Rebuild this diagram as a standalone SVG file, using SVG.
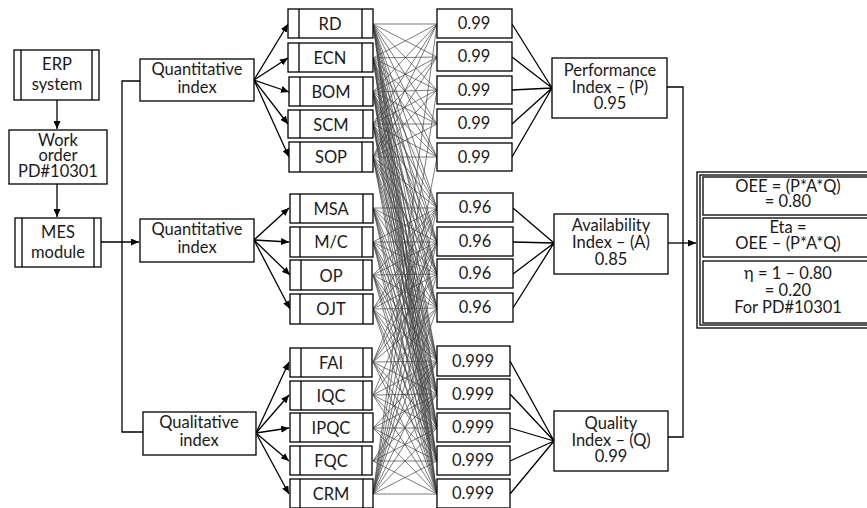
<svg xmlns="http://www.w3.org/2000/svg" width="867" height="508" viewBox="0 0 867 508">
<defs>
<marker id="ah" markerUnits="userSpaceOnUse" markerWidth="8" markerHeight="7" refX="8" refY="3.5" orient="auto">
<path d="M0,0 L8,3.5 L0,7 z" fill="#000"/>
</marker>
<style>
rect{fill:#fff;stroke:#000;stroke-width:1.3}
.il{stroke:#000;stroke-width:1.3;fill:none}
text{font-family:Lato,"Open Sans","Liberation Sans",sans-serif;font-size:16.5px;fill:#1a1a1a;text-anchor:middle}
.c{stroke:#000;stroke-width:1.3;fill:none}
.a{stroke:#000;stroke-width:1.3;fill:none;marker-end:url(#ah)}
.mesh{stroke:#444;stroke-width:0.7;fill:none}
</style>
</defs>
<rect x="0" y="0" width="867" height="508" style="fill:#fff;stroke:none"/>

<g id="connectors">
<path class="a" d="M57 100V129"/>
<path class="a" d="M57 184V217"/>
<path class="a" d="M101 242H139"/>
<path class="c" d="M140 81H122V432H143"/>
<path class="a" d="M254 80L288 24"/>
<path class="a" d="M254 80L288 58"/>
<path class="a" d="M254 80L289 92"/>
<path class="a" d="M254 80L288 124"/>
<path class="a" d="M254 80L289 157"/>
<path class="a" d="M254 240L289 208"/>
<path class="a" d="M254 240L289 242"/>
<path class="a" d="M254 240L290 275"/>
<path class="a" d="M254 240L290 309"/>
<path class="a" d="M256 433L289 362"/>
<path class="a" d="M256 433L289 395"/>
<path class="a" d="M256 433L289 428"/>
<path class="a" d="M256 433L289 461"/>
<path class="a" d="M256 433L289 494"/>
<path class="mesh" d="M373 24L437 24M373 24L437 57M373 24L437 90M373 24L437 124M373 24L437 157M373 24L437 208M373 24L437 242M373 24L437 274M373 24L437 308M373 24L437 361M373 24L437 394M373 24L437 428M373 24L437 461M373 24L437 494
M373 58L437 24M373 58L437 57M373 58L437 90M373 58L437 124M373 58L437 157M373 58L437 208M373 58L437 242M373 58L437 274M373 58L437 308M373 58L437 361M373 58L437 394M373 58L437 428M373 58L437 461M373 58L437 494
M373 92L437 24M373 92L437 57M373 92L437 90M373 92L437 124M373 92L437 157M373 92L437 208M373 92L437 242M373 92L437 274M373 92L437 308M373 92L437 361M373 92L437 394M373 92L437 428M373 92L437 461M373 92L437 494
M373 124L437 24M373 124L437 57M373 124L437 90M373 124L437 124M373 124L437 157M373 124L437 208M373 124L437 242M373 124L437 274M373 124L437 308M373 124L437 361M373 124L437 394M373 124L437 428M373 124L437 461M373 124L437 494
M373 157L437 24M373 157L437 57M373 157L437 90M373 157L437 124M373 157L437 157M373 157L437 208M373 157L437 242M373 157L437 274M373 157L437 308M373 157L437 361M373 157L437 394M373 157L437 428M373 157L437 461M373 157L437 494
M373 208L437 208M373 208L437 242M373 208L437 274M373 208L437 308M373 208L437 361M373 208L437 394M373 208L437 428M373 208L437 461M373 208L437 494
M373 242L437 208M373 242L437 242M373 242L437 274M373 242L437 308M373 242L437 361M373 242L437 394M373 242L437 428M373 242L437 461M373 242L437 494
M373 275L437 208M373 275L437 242M373 275L437 274M373 275L437 308M373 275L437 361M373 275L437 394M373 275L437 428M373 275L437 461M373 275L437 494
M373 309L437 208M373 309L437 242M373 309L437 274M373 309L437 308M373 309L437 361M373 309L437 394M373 309L437 428M373 309L437 461M373 309L437 494
M373 362L437 361M373 362L437 394M373 362L437 428M373 362L437 461M373 362L437 494M373 362L437 208M373 362L437 242M373 362L437 274M373 362L437 308
M373 395L437 361M373 395L437 394M373 395L437 428M373 395L437 461M373 395L437 494M373 395L437 242M373 395L437 308
M373 428L437 361M373 428L437 394M373 428L437 428M373 428L437 461M373 428L437 494
M373 461L437 361M373 461L437 394M373 461L437 428M373 461L437 461M373 461L437 494
M373 494L437 361M373 494L437 394M373 494L437 428M373 494L437 461M373 494L437 494M373 494L437 24M373 494L437 90M373 494L437 157M373 494L437 208M373 494L437 242M373 494L437 274M373 494L437 308"/>
<path class="c" d="M512 24L552 88M512 57L552 88M512 90L552 88M512 124L552 88M512 157L552 88"/>
<path class="c" d="M513 208L554 243M513 242L554 243M513 274L554 243M513 308L554 243"/>
<path class="c" d="M510 361L554 441M510 394L554 441M510 428L554 441M510 461L554 441M510 494L554 441"/>
<path class="c" d="M667 87H683V437H668"/>
<path class="a" d="M668 243H696"/>
</g>

<g id="erp">
<rect x="14" y="50" width="85" height="50"/>
<path class="il" d="M21 50V100M92 50V100"/>
<text x="57" y="70">ERP</text><text x="57" y="90">system</text>
</g>
<g id="workorder">
<rect x="9" y="130" width="98" height="54"/>
<text x="58" y="146">Work</text><text x="58" y="161">order</text><text x="58" y="177">PD#10301</text>
</g>
<g id="mes">
<rect x="15" y="218" width="86" height="49"/>
<path class="il" d="M22 218V267M94 218V267"/>
<text x="58" y="238">MES</text><text x="58" y="258">module</text>
</g>

<g id="quant1">
<rect x="140" y="59" width="114" height="42"/>
<text x="197" y="75">Quantitative</text><text x="197" y="93">index</text>
</g>
<g id="quant2">
<rect x="140" y="219" width="114" height="43"/>
<text x="197" y="235">Quantitative</text><text x="197" y="253">index</text>
</g>
<g id="qual">
<rect x="143" y="412" width="113" height="43"/>
<text x="199" y="428">Qualitative</text><text x="199" y="446">index</text>
</g>

<g id="rd"><rect x="288" y="9" width="85" height="29"/><path class="il" d="M299 9V38M362 9V38"/><text x="330" y="30">RD</text></g>
<g id="ecn"><rect x="288" y="43" width="85" height="29"/><path class="il" d="M299 43V72M362 43V72"/><text x="330" y="64">ECN</text></g>
<g id="bom"><rect x="289" y="77" width="84" height="29"/><path class="il" d="M300 77V106M363 77V106"/><text x="331" y="98">BOM</text></g>
<g id="scm"><rect x="288" y="110" width="85" height="28"/><path class="il" d="M300 110V138M363 110V138"/><text x="331" y="131">SCM</text></g>
<g id="sop"><rect x="289" y="142" width="84" height="30"/><path class="il" d="M300 142V172M362 142V172"/><text x="331" y="163">SOP</text></g>

<g id="msa"><rect x="290" y="194" width="83" height="29"/><path class="il" d="M300 194V223M363 194V223"/><text x="331" y="215">MSA</text></g>
<g id="mc"><rect x="290" y="227" width="83" height="30"/><path class="il" d="M300 227V257M362 227V257"/><text x="331" y="248">M/C</text></g>
<g id="op"><rect x="290" y="260" width="82" height="30"/><path class="il" d="M301 260V290M363 260V290"/><text x="331" y="282">OP</text></g>
<g id="ojt"><rect x="290" y="294" width="83" height="30"/><path class="il" d="M300 294V324M363 294V324"/><text x="331" y="315">OJT</text></g>

<g id="fai"><rect x="290" y="348" width="82" height="29"/><path class="il" d="M301 348V377M363 348V377"/><text x="331" y="369">FAI</text></g>
<g id="iqc"><rect x="290" y="381" width="82" height="29"/><path class="il" d="M301 381V410M363 381V410"/><text x="331" y="402">IQC</text></g>
<g id="ipqc"><rect x="290" y="413" width="83" height="29"/><path class="il" d="M300 413V442M363 413V442"/><text x="331" y="434">IPQC</text></g>
<g id="fqc"><rect x="290" y="446" width="82" height="29"/><path class="il" d="M300 446V475M362 446V475"/><text x="331" y="467">FQC</text></g>
<g id="crm"><rect x="290" y="479" width="83" height="29"/><path class="il" d="M300 479V508M363 479V508"/><text x="331" y="500">CRM</text></g>

<g id="v1"><rect x="437" y="9" width="75" height="29"/><text x="474" y="29">0.99</text></g>
<g id="v2"><rect x="437" y="42" width="75" height="29"/><text x="474" y="62">0.99</text></g>
<g id="v3"><rect x="437" y="76" width="75" height="28"/><text x="474" y="96">0.99</text></g>
<g id="v4"><rect x="437" y="109" width="75" height="29"/><text x="474" y="129">0.99</text></g>
<g id="v5"><rect x="437" y="143" width="75" height="28"/><text x="474" y="163">0.99</text></g>

<g id="v6"><rect x="437" y="193" width="76" height="29"/><text x="475" y="213">0.96</text></g>
<g id="v7"><rect x="437" y="227" width="76" height="29"/><text x="475" y="247">0.96</text></g>
<g id="v8"><rect x="437" y="259" width="76" height="29"/><text x="475" y="279">0.96</text></g>
<g id="v9"><rect x="437" y="293" width="76" height="29"/><text x="475" y="313">0.96</text></g>

<g id="v10"><rect x="437" y="346" width="73" height="30"/><text x="473" y="367">0.999</text></g>
<g id="v11"><rect x="437" y="379" width="73" height="30"/><text x="473" y="400">0.999</text></g>
<g id="v12"><rect x="437" y="413" width="73" height="29"/><text x="473" y="433">0.999</text></g>
<g id="v13"><rect x="437" y="446" width="73" height="29"/><text x="473" y="466">0.999</text></g>
<g id="v14"><rect x="437" y="479" width="73" height="29"/><text x="473" y="499">0.999</text></g>

<g id="perf">
<rect x="552" y="58" width="115" height="60"/>
<text x="610" y="76">Performance</text><text x="610" y="93">Index – (P)</text><text x="610" y="109">0.95</text>
</g>
<g id="avail">
<rect x="554" y="214" width="114" height="60"/>
<text x="611" y="231">Availability</text><text x="611" y="248">Index – (A)</text><text x="611" y="265">0.85</text>
</g>
<g id="quality">
<rect x="554" y="411" width="114" height="60"/>
<text x="611" y="429">Quality</text><text x="611" y="446">Index – (Q)</text><text x="611" y="462">0.99</text>
</g>

<g id="oee">
<rect x="697" y="172" width="180" height="156"/>
<rect x="700" y="175" width="177" height="150"/>
<rect x="703" y="177" width="170" height="38"/>
<rect x="703" y="218" width="170" height="39"/>
<rect x="703" y="261" width="170" height="62"/>
<text x="788" y="192">OEE = (P*A*Q)</text><text x="788" y="207">= 0.80</text>
<text x="788" y="233">Eta =</text><text x="788" y="249">OEE – (P*A*Q)</text>
<text x="788" y="279">η = 1 – 0.80</text><text x="788" y="296">= 0.20</text><text x="788" y="313">For PD#10301</text>
</g>
</svg>
